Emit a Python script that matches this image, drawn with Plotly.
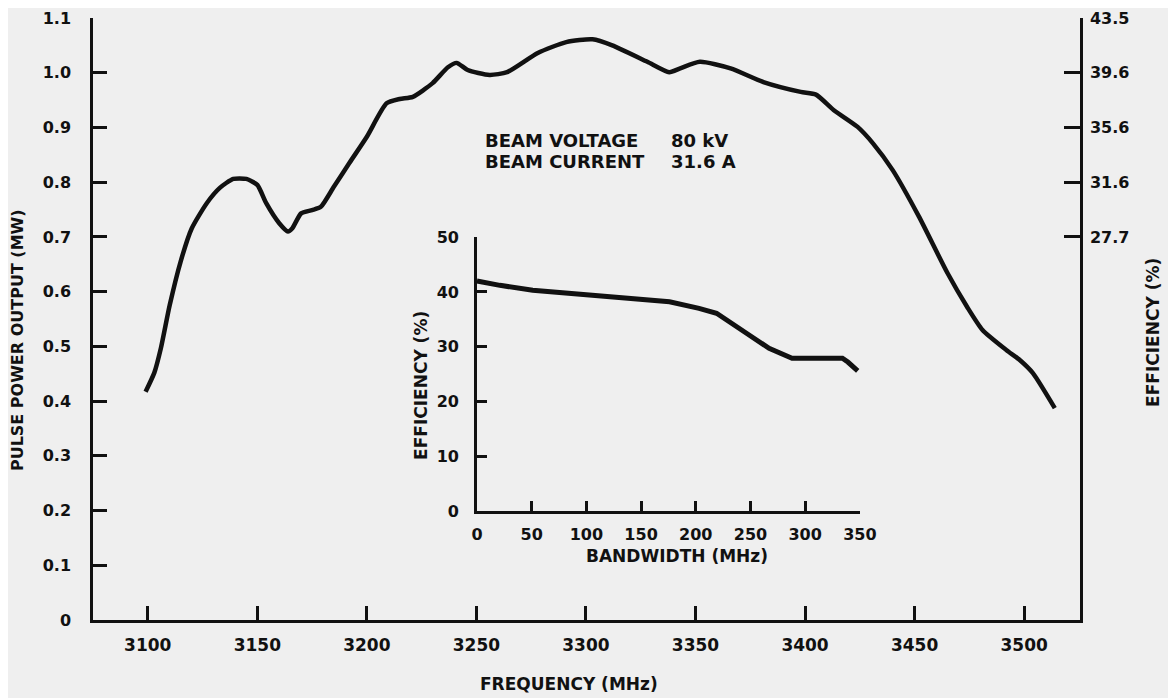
import plotly.graph_objects as go

# main curve: pulse power output vs frequency
freq_mhz = [3099, 3103, 3106, 3110, 3115, 3120, 3127, 3133, 3139, 3145, 3150, 3154,
            3160, 3164, 3166, 3170, 3175, 3179, 3185, 3192, 3200, 3209, 3215, 3221,
            3230, 3237, 3241, 3246, 3256, 3264, 3278, 3291, 3303, 3312, 3328, 3338,
            3343, 3352, 3366, 3381, 3398, 3405, 3413, 3424, 3431, 3440, 3452, 3465,
            3474, 3481, 3492, 3498, 3504, 3514]
pulse_power_mw = [0.417, 0.452, 0.497, 0.575, 0.655, 0.715, 0.762, 0.79, 0.806, 0.806, 0.795, 0.762,
                  0.725, 0.71, 0.716, 0.743, 0.749, 0.755, 0.792, 0.835, 0.883, 0.944, 0.952, 0.956,
                  0.981, 1.01, 1.018, 1.005, 0.996, 1.001, 1.036, 1.056, 1.061, 1.05, 1.02, 1.001,
                  1.008, 1.02, 1.008, 0.983, 0.965, 0.96, 0.932, 0.901, 0.871, 0.822, 0.737, 0.634,
                  0.572, 0.53, 0.493, 0.475, 0.451, 0.387]

# right-hand efficiency scale
eff_tick_pos = [0.7, 0.8, 0.9, 1.0, 1.1]
eff_tick_text = ["27.7", "31.6", "35.6", "39.6", "43.5"]

# inset: efficiency vs bandwidth
bandwidth_mhz = [0, 21, 51, 100, 149, 176, 203, 219, 246, 267, 288, 300, 334, 339, 348]
efficiency_pct = [42.0, 41.2, 40.3, 39.4, 38.7, 38.2, 37.0, 36.1, 32.5, 29.7, 27.9, 27.9, 27.9, 27.2, 25.6]

ink = "#111111"
paper = "#efefef"

fig = go.Figure()
fig.add_trace(go.Scatter(x=freq_mhz, y=pulse_power_mw, mode="lines",
                         line=dict(color=ink, width=4.5, shape="spline", smoothing=0.6),
                         xaxis="x", yaxis="y", hoverinfo="skip"))
# invisible copy so the right-hand axis gets drawn
fig.add_trace(go.Scatter(x=freq_mhz, y=pulse_power_mw, mode="lines", opacity=0,
                         xaxis="x", yaxis="y2", hoverinfo="skip"))
fig.add_trace(go.Scatter(x=bandwidth_mhz, y=efficiency_pct, mode="lines",
                         line=dict(color=ink, width=5),
                         xaxis="x3", yaxis="y3", hoverinfo="skip"))

axis_common = dict(showline=True, linecolor=ink, linewidth=2.5, ticks="inside",
                   tickcolor=ink, tickwidth=2.5, showgrid=False, zeroline=False,
                   automargin=False)

# the page adds an 8px body margin, so the figure is 8px smaller than the window
fig.update_layout(
    width=1168, height=690,
    margin=dict(l=85, r=96, t=10, b=78),
    paper_bgcolor=paper, plot_bgcolor=paper,
    showlegend=False,
    font=dict(family="DejaVu Sans", size=16, color=ink, weight="bold"),
    xaxis=dict(axis_common, range=[3075, 3525.5], tickvals=list(range(3100, 3501, 50)),
               ticklen=14, ticklabelstandoff=8, tickfont=dict(size=17)),
    yaxis=dict(axis_common, range=[0, 1.1], tickvals=[i / 10 for i in range(12)],
               ticktext=["0"] + ["%.1f" % (i / 10) for i in range(1, 12)],
               ticklen=14, ticklabelstandoff=16, tickfont=dict(size=16)),
    yaxis2=dict(axis_common, overlaying="y", side="right", anchor="x", range=[0, 1.1],
                tickvals=eff_tick_pos, ticktext=eff_tick_text,
                ticklen=16, ticklabelstandoff=4, tickfont=dict(size=16)),
    xaxis3=dict(axis_common, domain=[0.389, 0.777], anchor="y3", range=[0, 350],
                tickvals=list(range(0, 351, 50)), ticklen=10, ticklabelstandoff=7,
                tickfont=dict(size=16)),
    yaxis3=dict(axis_common, domain=[0.181, 0.636], anchor="x3", range=[0, 50],
                tickvals=list(range(0, 51, 10)), ticklen=10, ticklabelstandoff=12,
                tickfont=dict(size=16)),
)

notes = [
    dict(text="PULSE POWER OUTPUT (MW)", x=-0.077, y=0.465, textangle=-90, size=16),
    dict(text="EFFICIENCY (%)", x=1.074, y=0.477, textangle=-90, size=17),
    dict(text="FREQUENCY (MHz)", x=0.482, y=-0.107, textangle=0, size=17),
    dict(text="BANDWIDTH (MHz)", x=0.592, y=0.106, textangle=0, size=17),
    dict(text="EFFICIENCY (%)", x=0.333, y=0.39, textangle=-90, size=17),
]
for n in notes:
    fig.add_annotation(text=n["text"], x=n["x"], y=n["y"], xref="paper", yref="paper",
                       textangle=n["textangle"], showarrow=False,
                       xanchor="center", yanchor="middle", font=dict(size=n["size"]))

beam = [("BEAM VOLTAGE", "80 kV", 0.876), ("BEAM CURRENT", "31.6 A", 0.837)]
for label, value, yy in beam:
    fig.add_annotation(text=label, x=3253, y=yy, xref="x", yref="y", showarrow=False,
                       xanchor="left", yanchor="middle", font=dict(size=18))
    fig.add_annotation(text=value, x=3338, y=yy, xref="x", yref="y", showarrow=False,
                       xanchor="left", yanchor="middle", font=dict(size=18))

fig.write_html("out.html")
